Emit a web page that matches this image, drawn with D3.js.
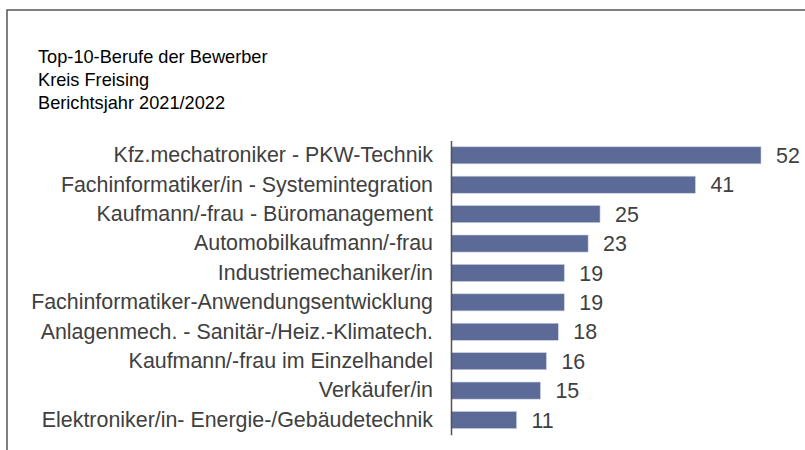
<!DOCTYPE html>
<html>
<head>
<meta charset="utf-8">
<script src="https://cdn.jsdelivr.net/npm/d3@7"></script>
<style>
  html, body { margin: 0; padding: 0; background: #fff; }
  svg { display: block; }
</style>
</head>
<body>
<svg id="chart" width="805" height="450"></svg>
<script>
const titleLines = ["Top-10-Berufe der Bewerber", "Kreis Freising", "Berichtsjahr 2021/2022"];
const categories = [
  "Kfz.mechatroniker - PKW-Technik",
  "Fachinformatiker/in - Systemintegration",
  "Kaufmann/-frau - Büromanagement",
  "Automobilkaufmann/-frau",
  "Industriemechaniker/in",
  "Fachinformatiker-Anwendungsentwicklung",
  "Anlagenmech. - Sanitär-/Heiz.-Klimatech.",
  "Kaufmann/-frau im Einzelhandel",
  "Verkäufer/in",
  "Elektroniker/in- Energie-/Gebäudetechnik"
];
const values = [52, 41, 25, 23, 19, 19, 18, 16, 15, 11];

const svg = d3.select("#chart");
const font = "'Liberation Sans', Arial, sans-serif";

// outer frame (extends beyond viewport on right/bottom)
svg.append("rect")
  .attr("x", 7).attr("y", 10)
  .attr("width", 820).attr("height", 460)
  .attr("fill", "none").attr("stroke", "#555").attr("stroke-width", 1.5);

// title
svg.append("g").selectAll("text").data(titleLines).join("text")
  .attr("x", 38).attr("y", (d, i) => 63 + i * 23)
  .attr("font-family", font).attr("font-size", 18.2)
  .attr("fill", "#000")
  .text(d => d);

const x = d3.scaleLinear().domain([0, 52]).range([451, 761]);
const y = d3.scaleBand().domain(categories).range([140.6, 434.7])
  .paddingInner(0.42).paddingOuter(0.21);

// bars
svg.append("g").selectAll("rect").data(values).join("rect")
  .attr("x", x(0))
  .attr("y", (d, i) => y(categories[i]))
  .attr("width", d => x(d) - x(0))
  .attr("height", y.bandwidth())
  .attr("fill", "#5b6a96")
  .attr("stroke", "#c9cfe0").attr("stroke-width", 0.6);

// value labels
svg.append("g").selectAll("text").data(values).join("text")
  .attr("x", d => x(d) + 15)
  .attr("y", (d, i) => y(categories[i]) + y.bandwidth() / 2)
  .attr("dy", "0.36em")
  .attr("font-family", font).attr("font-size", 21.4)
  .attr("fill", "#404040")
  .text(d => d);

// axis
const yAxis = d3.axisLeft(y).tickSize(0).tickPadding(18);
const ag = svg.append("g").attr("transform", `translate(${x(0)},0)`).call(yAxis);
ag.select(".domain").attr("stroke", "#555").attr("stroke-width", 1.5);
ag.selectAll(".tick text")
  .attr("font-family", font).attr("font-size", 21.4)
  .attr("fill", "#404040");
</script>
</body>
</html>
